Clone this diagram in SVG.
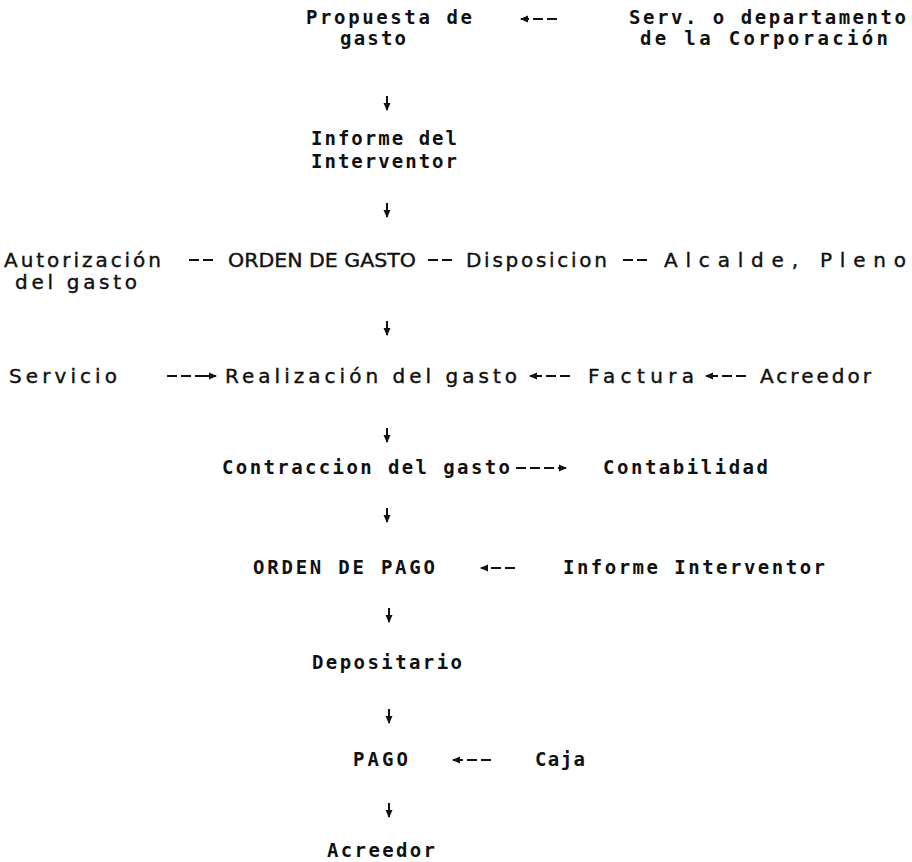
<svg xmlns="http://www.w3.org/2000/svg" width="912" height="862" viewBox="0 0 912 862">
<style>
text{fill:#111;font-family:"DejaVu Sans Mono","Liberation Mono",monospace;font-size:19px;font-weight:bold;}
text.p{font-family:"DejaVu Sans","Liberation Sans",sans-serif;font-size:20px;font-weight:normal;stroke:#111;stroke-width:0.4;}
.c{fill:none;stroke:#111;stroke-width:2;}
</style>
<defs>
<marker id="ah" viewBox="0 0 8 8" refX="7" refY="4" markerWidth="8" markerHeight="8" markerUnits="userSpaceOnUse" orient="auto-start-reverse"><path d="M0,0.5 L8,4 L0,7.5 z" fill="#111"/></marker>
</defs>
<rect width="912" height="862" fill="#fff"/>
<g id="n-propuesta"><text x="306" y="24" textLength="166" lengthAdjust="spacing">Propuesta de</text><text x="340" y="45" textLength="66" lengthAdjust="spacing">gasto</text></g>
<g id="n-serv"><text x="629" y="24" textLength="277" lengthAdjust="spacing">Serv. o departamento</text><text x="640" y="45" textLength="248" lengthAdjust="spacing">de la Corporación</text></g>
<g id="n-informe"><text x="311" y="145" textLength="146" lengthAdjust="spacing">Informe del</text><text x="311" y="168" textLength="146" lengthAdjust="spacing">Interventor</text></g>
<g id="n-autorizacion"><text class="p" x="4" y="267" textLength="157" lengthAdjust="spacing">Autorización</text><text class="p" x="15" y="289" textLength="122" lengthAdjust="spacing">del gasto</text></g>
<g id="n-orden-gasto"><text class="p" x="228" y="267" textLength="188" lengthAdjust="spacingAndGlyphs">ORDEN DE GASTO</text></g>
<g id="n-disposicion"><text class="p" x="466" y="267" textLength="141" lengthAdjust="spacing">Disposicion</text></g>
<g id="n-alcalde"><text class="p" x="664" y="267" textLength="242" lengthAdjust="spacing">Alcalde, Pleno</text></g>
<g id="n-servicio"><text class="p" x="9" y="383" textLength="108" lengthAdjust="spacing">Servicio</text></g>
<g id="n-realizacion"><text class="p" x="225" y="383" textLength="292" lengthAdjust="spacing">Realización del gasto</text></g>
<g id="n-factura"><text class="p" x="588" y="383" textLength="106" lengthAdjust="spacing">Factura</text></g>
<g id="n-acreedor1"><text class="p" x="760" y="383" textLength="111" lengthAdjust="spacing">Acreedor</text></g>
<g id="n-contraccion"><text x="222" y="474" textLength="288" lengthAdjust="spacing">Contraccion del gasto</text></g>
<g id="n-contabilidad"><text x="603" y="474" textLength="165" lengthAdjust="spacing">Contabilidad</text></g>
<g id="n-orden-pago"><text x="253" y="574" textLength="182" lengthAdjust="spacing">ORDEN DE PAGO</text></g>
<g id="n-informe2"><text x="563" y="574" textLength="262" lengthAdjust="spacing">Informe Interventor</text></g>
<g id="n-depositario"><text x="312" y="669" textLength="150" lengthAdjust="spacing">Depositario</text></g>
<g id="n-pago"><text x="353" y="766" textLength="55" lengthAdjust="spacing">PAGO</text></g>
<g id="n-caja"><text x="535" y="766" textLength="50" lengthAdjust="spacing">Caja</text></g>
<g id="n-acreedor2"><text x="327" y="857" textLength="108" lengthAdjust="spacing">Acreedor</text></g>
<g id="connectors">
<path class="c" d="M557,19 H547 M543,19 H533 M529,19 H521" marker-end="url(#ah)"/>
<path class="c" d="M387,96 V110" marker-end="url(#ah)"/>
<path class="c" d="M387,203 V217" marker-end="url(#ah)"/>
<path class="c" d="M189,260 H199 M203,260 H213"/>
<path class="c" d="M428,260 H438 M442,260 H452"/>
<path class="c" d="M623,260 H633 M637,260 H647"/>
<path class="c" d="M387,321 V335" marker-end="url(#ah)"/>
<path class="c" d="M167,376 H177 M181,376 H191 M195,376 H216" marker-end="url(#ah)"/>
<path class="c" d="M570,376 H560 M556,376 H546 M542,376 H530" marker-end="url(#ah)"/>
<path class="c" d="M746,376 H736 M732,376 H722 M718,376 H706" marker-end="url(#ah)"/>
<path class="c" d="M387,428 V442" marker-end="url(#ah)"/>
<path class="c" d="M516,468 H526 M530,468 H540 M544,468 H554 M558,468 H566" marker-end="url(#ah)"/>
<path class="c" d="M387,508 V522" marker-end="url(#ah)"/>
<path class="c" d="M515,568 H505 M501,568 H491 M487,568 H481" marker-end="url(#ah)"/>
<path class="c" d="M389,608 V622" marker-end="url(#ah)"/>
<path class="c" d="M389,709 V723" marker-end="url(#ah)"/>
<path class="c" d="M491,760 H481 M477,760 H467 M463,760 H453" marker-end="url(#ah)"/>
<path class="c" d="M389,803 V817" marker-end="url(#ah)"/>
</g>
</svg>
